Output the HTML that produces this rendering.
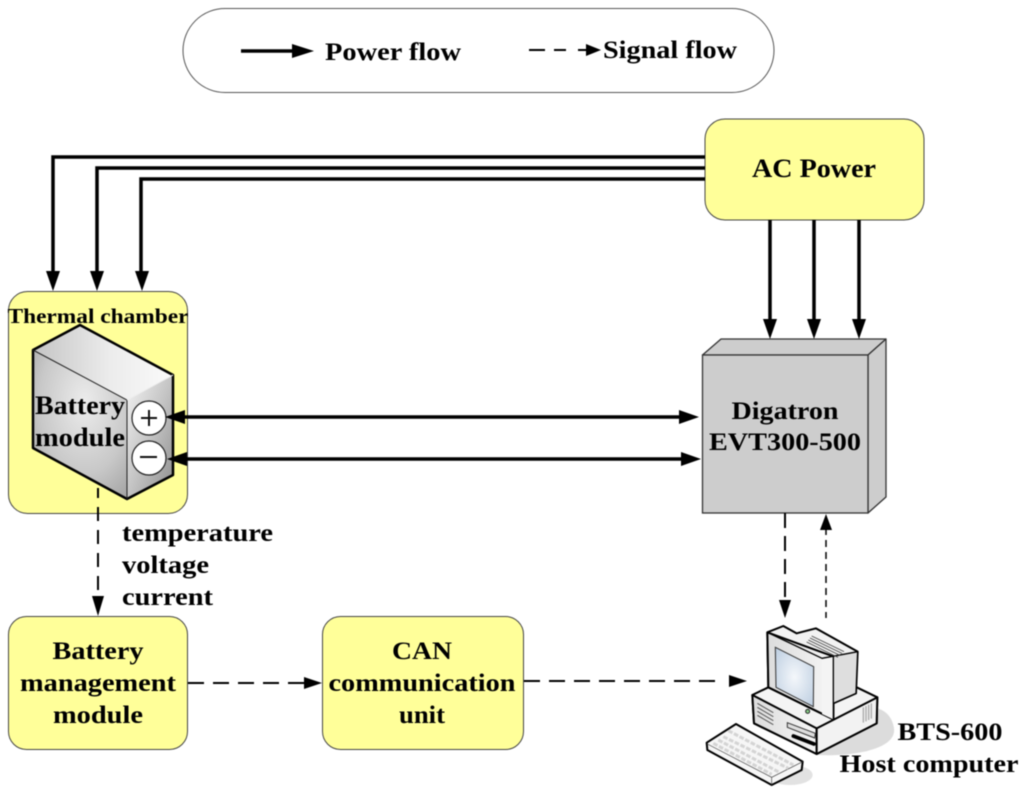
<!DOCTYPE html>
<html><head><meta charset="utf-8"><style>html,body{margin:0;padding:0;background:#fff}svg{display:block;filter:blur(.45px)}text{font-family:"Liberation Serif",serif;font-weight:bold;fill:#000}</style></head>
<body>
<svg width="1024" height="793" viewBox="0 0 1024 793" xmlns="http://www.w3.org/2000/svg">
<defs>
<linearGradient id="top" x1="0" y1="0" x2="1" y2="0"><stop offset="0" stop-color="#c4c4c4"/><stop offset=".55" stop-color="#ececec"/><stop offset="1" stop-color="#fafafa"/></linearGradient>
<radialGradient id="left" cx=".55" cy=".35" r=".8"><stop offset="0" stop-color="#ececec"/><stop offset=".6" stop-color="#c8c8c8"/><stop offset="1" stop-color="#a0a0a0"/></radialGradient>
<linearGradient id="right" x1="0" y1="0" x2="1" y2="1"><stop offset="0" stop-color="#f4f4f4"/><stop offset=".5" stop-color="#c4c4c4"/><stop offset="1" stop-color="#8c8c8c"/></linearGradient>
<radialGradient id="scr" cx=".5" cy=".5" r=".7"><stop offset="0" stop-color="#f4f7fb"/><stop offset="1" stop-color="#bccde0"/></radialGradient>
<linearGradient id="pc" x1="0" y1="0" x2="1" y2="0"><stop offset="0" stop-color="#dcdcdc"/><stop offset="1" stop-color="#f6f6f6"/></linearGradient>
</defs>

<!-- legend -->
<rect x="183" y="8.500" width="591" height="84" rx="42" fill="#fff" stroke="#555" stroke-width="1"/>
<line x1="241" y1="51" x2="296" y2="51" stroke="#000" stroke-width="3.500"/>
<polygon points="292,44 314,51 292,58" fill="#000"/>
<text x="325" y="60" font-size="25" textLength="136" lengthAdjust="spacingAndGlyphs">Power flow</text>
<path d="M529 50H545M554 50H566M578 50H590" stroke="#000" stroke-width="2"/>
<polygon points="586,44 601,50 586,56" fill="#000"/>
<text x="603" y="58" font-size="25" textLength="134" lengthAdjust="spacingAndGlyphs">Signal flow</text>

<!-- AC Power -->
<rect x="705" y="119" width="219" height="101" rx="20" fill="#ffff99" stroke="#444" stroke-width="1"/>
<text x="814" y="177" font-size="26" text-anchor="middle" textLength="124" lengthAdjust="spacingAndGlyphs">AC Power</text>

<!-- power lines to chamber -->
<g fill="none" stroke="#000" stroke-width="3.500">
<path d="M705 157H53V274"/>
<path d="M705 168H97V274"/>
<path d="M705 179H141V274"/>
<path d="M770 220V322"/>
<path d="M814 220V322"/>
<path d="M859 220V322"/>
</g>
<g fill="#000">
<polygon points="46,271 60,271 53,291"/>
<polygon points="90,271 104,271 97,291"/>
<polygon points="135,271 149,271 142,291"/>
<polygon points="763,319 777,319 770,339"/>
<polygon points="807,319 821,319 814,339"/>
<polygon points="852,319 866,319 859,339"/>
</g>

<!-- thermal chamber -->
<rect x="8.500" y="291.500" width="179" height="222" rx="19" fill="#ffff99" stroke="#444" stroke-width="1"/>
<text x="98" y="323" font-size="21" text-anchor="middle" textLength="181" lengthAdjust="spacingAndGlyphs">Thermal chamber</text>

<!-- battery cube -->
<polygon points="33,350 80,325 173,375 127,400" fill="url(#top)"/>
<polygon points="33,350 127,400 127,499 33,448" fill="url(#left)"/>
<polygon points="127,400 173,375 173,475 127,499" fill="url(#right)"/>
<polygon points="33,350 80,325 173,375 173,475 127,499 33,448" fill="none" stroke="#000" stroke-width="2.500" stroke-linejoin="round"/>
<path d="M33 350L127 400V499" fill="none" stroke="#222" stroke-width="1"/>
<path d="M127 400L173 375" fill="none" stroke="#eee" stroke-width="1"/>
<text x="80" y="414" font-size="26" text-anchor="middle" textLength="90" lengthAdjust="spacingAndGlyphs">Battery</text>
<text x="80" y="446" font-size="26" text-anchor="middle" textLength="90" lengthAdjust="spacingAndGlyphs">module</text>
<circle cx="149" cy="418" r="17" fill="#fff" stroke="#222" stroke-width="1.200"/>
<circle cx="149" cy="458" r="17" fill="#fff" stroke="#222" stroke-width="1.200"/>
<path d="M141 418H157M149 410V426M140 457H157" stroke="#111" stroke-width="2" fill="none"/>

<!-- battery to digatron -->
<g stroke="#000" stroke-width="3.500"><line x1="180" y1="417" x2="682" y2="417"/><line x1="182" y1="459" x2="684" y2="459"/></g>
<g fill="#000">
<polygon points="165,417 185,410 185,424"/>
<polygon points="167,459 187,452 187,466"/>
<polygon points="679,410 699,417 679,424"/>
<polygon points="681,452 701,459 681,466"/>
</g>

<!-- Digatron -->
<polygon points="702.500,355 721,339 886,339 868,355" fill="#cdcdcd" stroke="#333" stroke-width="1.300" stroke-linejoin="round"/>
<polygon points="868,355 886,339 886,497 868,513" fill="#cdcdcd" stroke="#333" stroke-width="1.300" stroke-linejoin="round"/>
<rect x="702.500" y="355" width="165.500" height="158" fill="#cdcdcd" stroke="#333" stroke-width="1.300"/>
<text x="785" y="419" font-size="25" text-anchor="middle" textLength="107" lengthAdjust="spacingAndGlyphs">Digatron</text>
<text x="785" y="450" font-size="25" text-anchor="middle" textLength="152" lengthAdjust="spacingAndGlyphs">EVT300-500</text>

<!-- signal lines -->
<g fill="none" stroke="#000" stroke-width="2">
<path d="M98 488V600" stroke-dasharray="14 9" stroke-dashoffset="4"/>
<path d="M188 683H306" stroke-dasharray="16 9"/>
<path d="M524 681H724" stroke-dasharray="16 9"/>
<path d="M785 513V604" stroke-dasharray="15 8"/>
</g>
<path d="M826 528V618" fill="none" stroke="#000" stroke-width="1.500" stroke-dasharray="7 5"/>
<g fill="#000">
<polygon points="92,596 104,596 98,616"/>
<polygon points="304,677 322,683 304,689"/>
<polygon points="729,675 747,681 729,687"/>
<polygon points="779,600 791,600 785,618"/>
<polygon points="820,530 832,530 826,514"/>
</g>

<text x="122" y="541" font-size="25" textLength="151" lengthAdjust="spacingAndGlyphs">temperature</text>
<text x="122" y="573" font-size="25" textLength="87" lengthAdjust="spacingAndGlyphs">voltage</text>
<text x="122" y="605" font-size="25" textLength="91" lengthAdjust="spacingAndGlyphs">current</text>

<!-- BMS -->
<rect x="8.500" y="616.500" width="179" height="133" rx="18" fill="#ffff99" stroke="#444" stroke-width="1"/>
<text x="98" y="659" font-size="25" text-anchor="middle" textLength="91" lengthAdjust="spacingAndGlyphs">Battery</text>
<text x="98" y="691" font-size="25" text-anchor="middle" textLength="156" lengthAdjust="spacingAndGlyphs">management</text>
<text x="98" y="723" font-size="25" text-anchor="middle" textLength="90" lengthAdjust="spacingAndGlyphs">module</text>

<!-- CAN -->
<rect x="322.500" y="616.500" width="201" height="133" rx="18" fill="#ffff99" stroke="#444" stroke-width="1"/>
<text x="422" y="659" font-size="25" text-anchor="middle" textLength="60" lengthAdjust="spacingAndGlyphs">CAN</text>
<text x="422" y="691" font-size="25" text-anchor="middle" textLength="187" lengthAdjust="spacingAndGlyphs">communication</text>
<text x="422" y="723" font-size="25" text-anchor="middle" textLength="46" lengthAdjust="spacingAndGlyphs">unit</text>

<!-- computer -->
<g transform="translate(690 600) scale(.33333)">
<path d="M380 465C500 470 620 445 612 385C605 340 575 325 540 320Z" fill="#dcdcdc"/>
<ellipse cx="300" cy="525" rx="68" ry="30" fill="#e2e2e2"/>
<g stroke="#000" stroke-width="6" stroke-linejoin="round">
<polygon points="187,285 235,262 500,262 562,292 560,370 380,462 192,370" fill="#f4f4f4"/>
<polygon points="187,285 380,385 380,462 192,370" fill="url(#pc)"/>
<polygon points="380,385 562,292 560,370 380,462" fill="#f2f2f2"/>
<polygon points="232,97 280,78 320,100 378,85 503,155 498,280 430,310 430,358 235,262" fill="#f2f2f2"/>
<polygon points="232,97 432,170 430,358 235,262" fill="url(#pc)"/>
</g>
<polygon points="432,170 503,155 498,280 430,310" fill="#dedede"/>
<polygon points="396,175 432,170 430,358 396,342" fill="#f4f4f4"/>
<path d="M232 97L396 175L503 155M503 155L498 280L430 310M430 170V358" fill="none" stroke="#000" stroke-width="4" stroke-linejoin="round"/>
<polygon points="256,142 371,200 370,320 258,262" fill="url(#scr)" stroke="#333" stroke-width="3"/>
<circle cx="353" cy="334" r="6" fill="#8c8" stroke="#222" stroke-width="3"/>
<path d="M365 108L462 155M360 114L456 160M355 120L450 166M350 126L444 172" stroke="#444" stroke-width="2.500" fill="none"/>
<path d="M202 310L250 338M202 322L250 350M202 334L250 362M202 346L250 374" stroke="#555" stroke-width="3" fill="none"/>
<polygon points="292,368 376,400 374,414 292,382" fill="#ddd" stroke="#333" stroke-width="3"/>
<line x1="310" y1="408" x2="372" y2="432" stroke="#000" stroke-width="11" stroke-linecap="round"/>
<path d="M520 322V368M528 318V364M536 314V360M544 310V356" stroke="#aaa" stroke-width="4" fill="none"/>
<polygon points="50,428 138,372 338,485 335,510 245,555 52,450" fill="#f6f6f6" stroke="#000" stroke-width="6" stroke-linejoin="round"/>
<path d="M52 432L245 532L338 485M245 532V555" stroke="#444" stroke-width="2" fill="none"/>
<g stroke="#d4d4d4" stroke-width="9" stroke-dasharray="14 5" fill="none">
<path d="M115 392L310 495"/>
<path d="M100 410L295 505"/>
<path d="M85 420L268 517"/>
<path d="M70 430L245 523"/>
</g>
</g>

<text x="950" y="740" font-size="25" text-anchor="middle" textLength="105" lengthAdjust="spacingAndGlyphs">BTS-600</text>
<text x="929" y="772" font-size="25" text-anchor="middle" textLength="179" lengthAdjust="spacingAndGlyphs">Host computer</text>
</svg>
</body></html>
